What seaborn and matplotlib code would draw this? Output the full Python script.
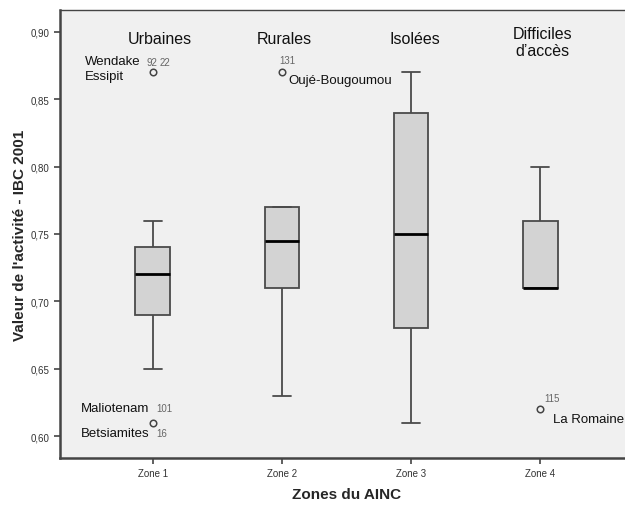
import numpy as np
import pandas as pd
import matplotlib
matplotlib.use('Agg')
import matplotlib.pyplot as plt
import seaborn as sns

# box summaries: lower whisker, Q1, median, Q3, upper whisker
zones = ['Zone 1', 'Zone 2', 'Zone 3', 'Zone 4']
whisker_low = [0.65, 0.63, 0.61, 0.71]
q1 = [0.69, 0.71, 0.68, 0.71]
median = [0.72, 0.745, 0.75, 0.71]
q3 = [0.74, 0.77, 0.84, 0.76]
whisker_high = [0.76, 0.77, 0.87, 0.80]

# outliers
out_zone = ['Zone 1', 'Zone 1', 'Zone 2', 'Zone 4']
out_value = [0.87, 0.61, 0.87, 0.62]

zone_titles = ['Urbaines', 'Rurales', 'Isolées', 'Difficiles\nd\u2019accès']
ytick_values = [0.60, 0.65, 0.70, 0.75, 0.80, 0.85, 0.90]
ytick_labels = ['0,60', '0,65', '0,70', '0,75', '0,80', '0,85', '0,90']

# five values per zone -> quartiles fall exactly on the summary values
rows = []
for i, z in enumerate(zones):
    for v in [whisker_low[i], q1[i], median[i], q3[i], whisker_high[i]]:
        rows.append({'zone': z, 'value': v})
df = pd.DataFrame(rows)

sns.set_style('white')
plt.rcParams['font.family'] = ['Liberation Sans', 'DejaVu Sans']

fig = plt.figure(figsize=(6.25, 5.06), dpi=100)
ax = fig.add_axes([60/625, 47/506, 573/625, 448/506])
ax.set_facecolor('#f0f0f0')

sns.boxplot(data=df, x='zone', y='value', order=zones, whis=(0, 100), width=0.27,
            color='#d3d3d3', linecolor='#4a4a4a', linewidth=1.3, showfliers=False,
            medianprops=dict(color='black', linewidth=2), ax=ax)

pos = [zones.index(z) for z in out_zone]
ax.scatter(pos, out_value, s=22, facecolors='#f0f0f0', edgecolors='#444444',
           linewidths=1.1, zorder=5)

ax.set_xlim(-0.72, 3.72)
ax.set_ylim(0.5837, 0.9163)
ax.set_yticks(ytick_values)
ax.set_yticklabels(ytick_labels, fontsize=7, color='#333333')
ax.tick_params(axis='both', bottom=True, left=True, direction='out', length=4,
               width=1.2, color='#444444')
ax.tick_params(axis='x', labelsize=7, labelcolor='#333333')
for s in ['left', 'bottom']:
    ax.spines[s].set_linewidth(1.8)
    ax.spines[s].set_color('#444444')
for s in ['top', 'right']:
    ax.spines[s].set_linewidth(1.0)
    ax.spines[s].set_color('#444444')

ax.set_xlabel('Zones du AINC', fontsize=11, fontweight='bold', labelpad=6)
ax.set_ylabel("Valeur de l'activité - IBC 2001", fontsize=11, fontweight='bold', labelpad=3)

# zone group titles
title_x = [0.05, 0.02, 0.03, 0.02]
for i, t in enumerate(zone_titles):
    yy = 0.895 if i < 3 else 0.8925
    ax.text(i + title_x[i], yy, t, ha='center', va='center', fontsize=11.5,
            color='#111111', linespacing=1.15)

# outlier labels
lab_kw = dict(fontsize=9.5, color='#111111', va='center')
num_kw = dict(fontsize=7, color='#666666', va='center')
ax.text(-0.53, 0.8785, 'Wendake', **lab_kw)
ax.text(-0.53, 0.8675, 'Essipit', **lab_kw)
ax.text(-0.05, 0.878, '92', **num_kw)
ax.text(0.05, 0.878, '22', **num_kw)
ax.text(1.04, 0.879, '131', ha='center', **num_kw)
ax.text(1.05, 0.8645, 'Oujé-Bougoumou', **lab_kw)
ax.text(-0.56, 0.6205, 'Maliotenam', **lab_kw)
ax.text(0.03, 0.6205, '101', **num_kw)
ax.text(-0.56, 0.6025, 'Betsiamites', **lab_kw)
ax.text(0.03, 0.6025, '16', **num_kw)
ax.text(3.03, 0.6285, '115', **num_kw)
ax.text(3.1, 0.6125, 'La Romaine', **lab_kw)

fig.savefig('out.png', dpi=100)
